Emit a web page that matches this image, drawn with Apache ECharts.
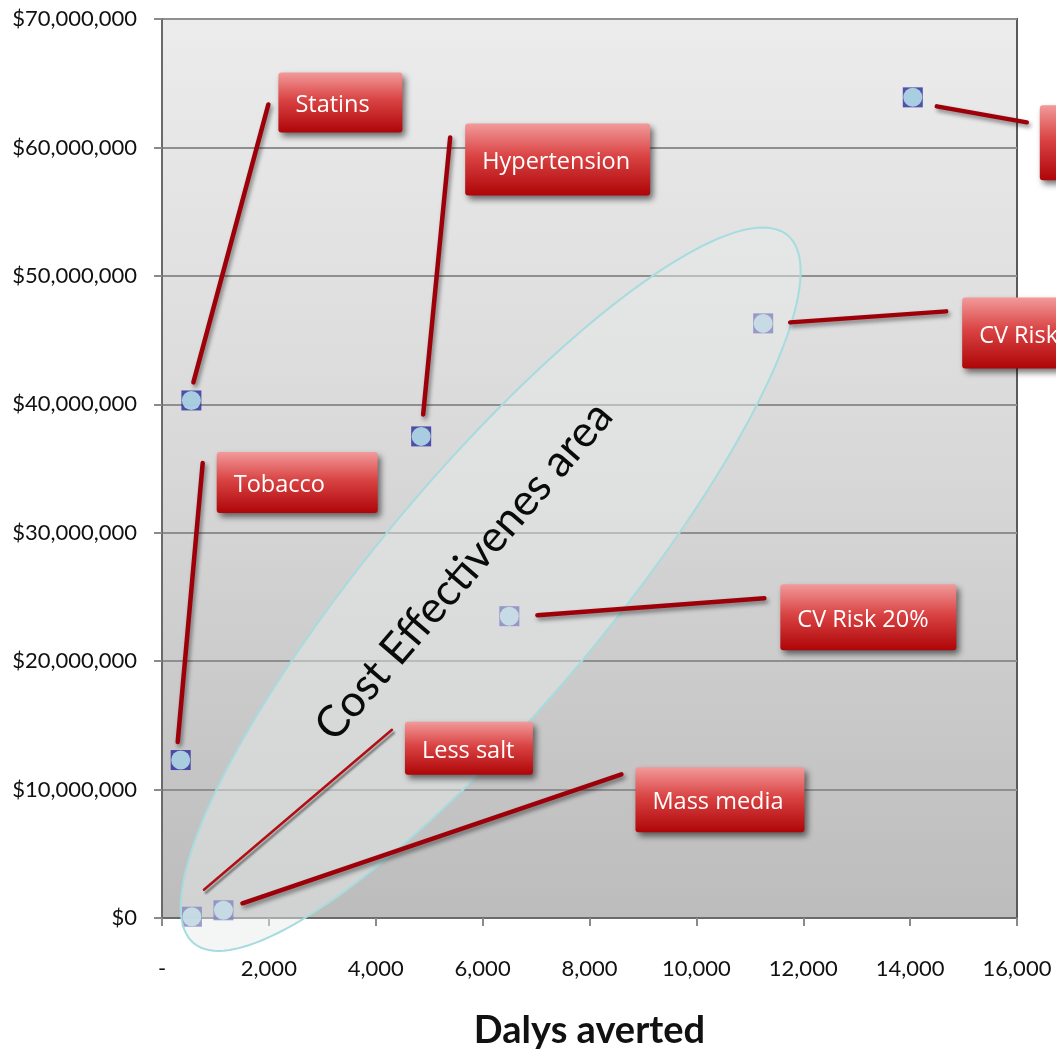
<!DOCTYPE html>
<html>
<head>
<meta charset="utf-8">
<title>Dalys averted vs cost</title>
<script src="https://cdn.jsdelivr.net/npm/echarts@6/dist/echarts.min.js"></script>
<style>
  html, body { margin: 0; padding: 0; background: #fff; }
  #chart { width: 1056px; height: 1050px; }
</style>
</head>
<body>
<div id="chart"></div>
<script>
// Interventions: DALYs averted (x) and total cost in US$ (y)
const interventions = ['Statins', 'Hypertension', 'CV Risk 5%', 'CV Risk 10%', 'Tobacco', 'CV Risk 20%', 'Less salt', 'Mass media'];
const dalysAverted = [550, 4850, 14050, 11250, 350, 6500, 560, 1150];
const totalCost = [40300000, 37500000, 63900000, 46300000, 12300000, 23500000, 100000, 600000];

// Axis ranges and ticks
const xTicks = [0, 2000, 4000, 6000, 8000, 10000, 12000, 14000, 16000];
const yTicks = [0, 10000000, 20000000, 30000000, 40000000, 50000000, 60000000, 70000000];

// Highlighted region: centre in data units
const regionCentre = [6150, 25600000];
const regionTitle = 'Cost Effectivenes area';
const regionTitleAnchor = [5650, 27000000];

// Callout layout (pixel offsets from each point): leader line start/end, box [dx, dy, w, h]
const calloutLayout = [
  { from: [2, -18], to: [77, -296], box: [87, -328, 124, 60] },
  { from: [2, -22], to: [29, -299], box: [44, -313, 185, 72] },
  { from: [24, 9], to: [114, 25], box: [127, 8, 160, 75] },
  { from: [27, -1], to: [183, -12], box: [199, -26, 170, 71] },
  { from: [-3, -18], to: [22, -297], box: [36, -308, 161, 61] },
  { from: [28, -1], to: [255, -18], box: [271, -32, 176, 66] },
  { from: [12, -27], to: [200, -187], box: [213, -195, 128, 53], thin: true },
  { from: [19, -7], to: [398, -136], box: [412, -143, 169, 65] }
];

const points = dalysAverted.map((x, i) => [x, totalCost[i], i]);

const chart = echarts.init(document.getElementById('chart'), null, { renderer: 'canvas' });

const boxFill = () => new echarts.graphic.LinearGradient(0, 0, 0, 1, [
  { offset: 0, color: '#f29a9a' },
  { offset: 0.45, color: '#da4444' },
  { offset: 1, color: '#ae0508' }
]);

function renderCallout(params, api) {
  const i = api.value(2);
  const p = api.coord([api.value(0), api.value(1)]);
  const L = calloutLayout[i];
  const bx = p[0] + L.box[0], by = p[1] + L.box[1];
  return {
    type: 'group',
    children: [
      {
        type: 'line',
        shape: { x1: p[0] + L.from[0], y1: p[1] + L.from[1], x2: p[0] + L.to[0], y2: p[1] + L.to[1] },
        style: {
          stroke: L.thin ? '#b01015' : '#9e000a',
          lineWidth: L.thin ? 2.5 : 4.5,
          lineCap: 'round',
          shadowColor: 'rgba(0,0,0,0.45)',
          shadowBlur: L.thin ? 2 : 4,
          shadowOffsetX: 2,
          shadowOffsetY: 3
        }
      },
      {
        type: 'rect',
        shape: { x: bx, y: by, width: L.box[2], height: L.box[3], r: 3 },
        style: {
          fill: boxFill(),
          shadowColor: 'rgba(0,0,0,0.55)',
          shadowBlur: 6,
          shadowOffsetX: 3,
          shadowOffsetY: 4
        }
      },
      {
        type: 'text',
        style: {
          text: interventions[i],
          x: bx + 17,
          y: by + L.box[3] / 2 + 3,
          fill: '#ffffff',
          font: '23.5px "Open Sans", sans-serif',
          align: 'left',
          verticalAlign: 'middle'
        }
      }
    ]
  };
}

function renderRegion(params, api) {
  const c = api.coord(regionCentre);
  const a = 462, b = 116, rot = 50 * Math.PI / 180;
  const pts = [];
  for (let k = 0; k < 180; k++) {
    const t = (k / 180) * Math.PI * 2;
    const ex = a * Math.cos(t), ey = b * Math.sin(t);
    pts.push([c[0] + ex * Math.cos(rot) + ey * Math.sin(rot), c[1] - ex * Math.sin(rot) + ey * Math.cos(rot)]);
  }
  return {
    type: 'polygon',
    shape: { points: pts },
    style: { fill: 'rgba(232,234,234,0.48)', stroke: '#a6dcdf', lineWidth: 2 }
  };
}

function renderRegionTitle(params, api) {
  const c = api.coord(regionTitleAnchor);
  return {
    type: 'text',
    x: c[0],
    y: c[1],
    rotation: 49.3 * Math.PI / 180,
    style: {
      text: regionTitle,
      x: 0,
      y: 0,
      fill: '#0a0a0a',
      font: '44px Lato, sans-serif',
      align: 'center',
      verticalAlign: 'middle'
    }
  };
}

chart.setOption({
  animation: false,
  backgroundColor: '#ffffff',
  grid: {
    left: 162, top: 19, right: 39, bottom: 132,
    outerBoundsMode: 'none',
    containLabel: false,
    show: true,
    borderColor: '#5a5a5a',
    borderWidth: 2,
    backgroundColor: new echarts.graphic.LinearGradient(0, 0, 0, 1, [
      { offset: 0, color: '#ececec' },
      { offset: 0.5, color: '#d8d8d8' },
      { offset: 1, color: '#bcbcbc' }
    ])
  },
  xAxis: {
    type: 'value',
    min: xTicks[0],
    max: xTicks[xTicks.length - 1],
    interval: xTicks[1] - xTicks[0],
    name: 'Dalys averted',
    nameLocation: 'middle',
    nameGap: 94,
    nameTextStyle: { fontFamily: 'Lato', fontWeight: 'bold', fontSize: 38, color: '#111' },
    axisLine: { show: true, lineStyle: { color: '#6a6a6a', width: 2 } },
    axisTick: { show: true, length: 8, lineStyle: { color: '#8a8a8a', width: 2 } },
    splitLine: { show: false },
    axisLabel: {
      margin: 40,
      fontFamily: 'Lato',
      fontSize: 22,
      color: '#111',
      formatter: v => v === 0 ? '-' : v.toLocaleString('en-US')
    }
  },
  yAxis: {
    type: 'value',
    min: yTicks[0],
    max: yTicks[yTicks.length - 1],
    interval: yTicks[1] - yTicks[0],
    axisLine: { show: true, lineStyle: { color: '#6a6a6a', width: 2 } },
    axisTick: { show: true, length: 8, lineStyle: { color: '#8a8a8a', width: 2 } },
    splitLine: { show: true, lineStyle: { color: '#8f8f8f', width: 2 } },
    axisLabel: {
      margin: 25,
      fontFamily: 'Lato',
      fontSize: 22,
      color: '#111',
      formatter: v => '$' + v.toLocaleString('en-US')
    }
  },
  series: [
    {
      type: 'scatter',
      data: points,
      symbol: 'rect',
      symbolSize: 20,
      itemStyle: { color: '#2a2a9e' },
      z: 2
    },
    {
      type: 'scatter',
      data: points,
      symbol: 'circle',
      symbolSize: 19,
      itemStyle: { color: '#bfeeee' },
      z: 3
    },
    {
      type: 'custom',
      data: [[regionCentre[0], regionCentre[1]]],
      renderItem: renderRegion,
      clip: false,
      silent: true,
      z: 4
    },
    {
      type: 'custom',
      data: points,
      renderItem: renderCallout,
      clip: false,
      z: 5
    },
    {
      type: 'custom',
      data: [[regionTitleAnchor[0], regionTitleAnchor[1]]],
      renderItem: renderRegionTitle,
      clip: false,
      silent: true,
      z: 6
    }
  ]
});
</script>
</body>
</html>
